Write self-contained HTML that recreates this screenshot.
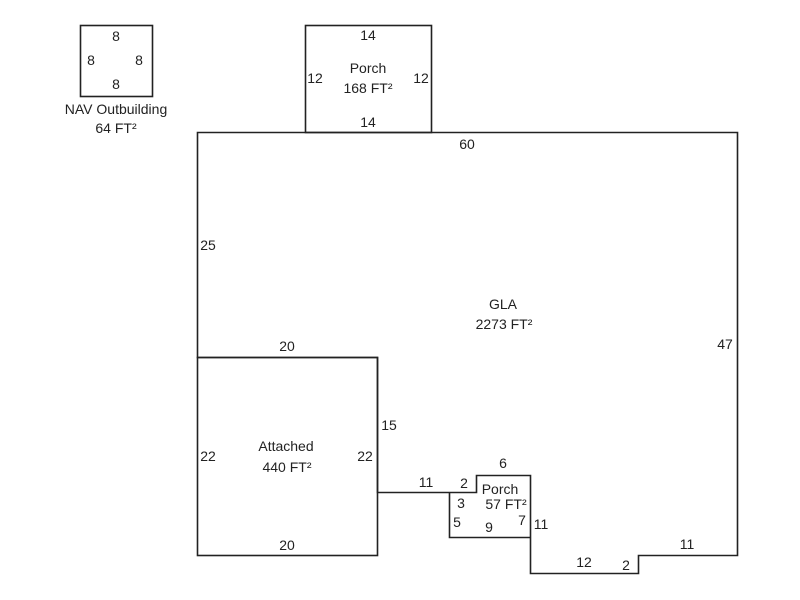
<!DOCTYPE html>
<html><head><meta charset="utf-8"><style>
html,body{margin:0;padding:0;background:#fff;}
svg{display:block;}
text{font-family:"Liberation Sans",Arial,sans-serif;font-size:14px;fill:#222;text-anchor:middle;dominant-baseline:central;}
</style></head><body>
<svg width="800" height="600" viewBox="0 0 800 600" xmlns="http://www.w3.org/2000/svg">
<g fill="none" stroke="#222" stroke-width="1.6">
<rect x="80.5" y="25.5" width="72" height="71"/>
<rect x="305.5" y="25.5" width="126" height="107"/>
<polygon points="197.5,132.5 737.5,132.5 737.5,555.5 638.5,555.5 638.5,573.5 530.5,573.5 530.5,475.5 476.5,475.5 476.5,492.5 377.5,492.5 377.5,357.5 197.5,357.5"/>
<rect x="197.5" y="357.5" width="180" height="198"/>
<polyline points="449.5,492.5 449.5,537.5 530.5,537.5"/>
</g>
<text x="116" y="36">8</text>
<text x="91" y="60">8</text>
<text x="139" y="60">8</text>
<text x="116" y="84">8</text>
<text x="116" y="109">NAV Outbuilding</text>
<text x="116" y="128">64 FT²</text>
<text x="368" y="35">14</text>
<text x="315" y="78">12</text>
<text x="421" y="78">12</text>
<text x="368" y="68">Porch</text>
<text x="368" y="88">168 FT²</text>
<text x="368" y="122">14</text>
<text x="467" y="144">60</text>
<text x="208" y="245">25</text>
<text x="503" y="304">GLA</text>
<text x="504" y="324">2273 FT²</text>
<text x="725" y="344">47</text>
<text x="287" y="346">20</text>
<text x="389" y="425">15</text>
<text x="286" y="446">Attached</text>
<text x="287" y="467">440 FT²</text>
<text x="208" y="456">22</text>
<text x="365" y="456">22</text>
<text x="287" y="545">20</text>
<text x="503" y="463">6</text>
<text x="426" y="482">11</text>
<text x="464" y="483">2</text>
<text x="500" y="489">Porch</text>
<text x="506" y="504">57 FT²</text>
<text x="461" y="503">3</text>
<text x="457" y="522">5</text>
<text x="489" y="527">9</text>
<text x="522" y="520">7</text>
<text x="541" y="524">11</text>
<text x="584" y="562">12</text>
<text x="626" y="565">2</text>
<text x="687" y="544">11</text>
</svg>
</body></html>
